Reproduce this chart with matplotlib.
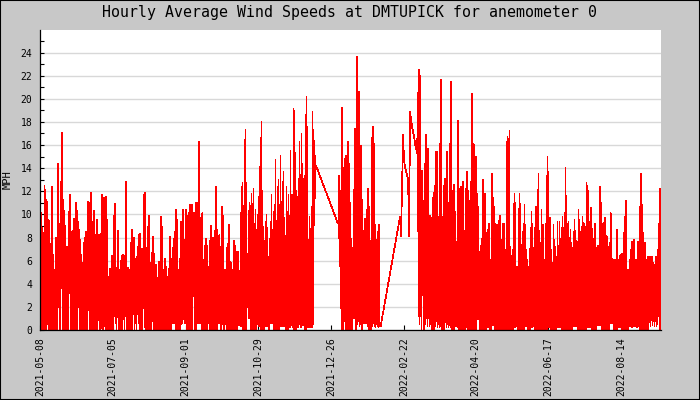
import numpy as np
import pandas as pd
import matplotlib
matplotlib.use("Agg")
import matplotlib.pyplot as plt
from matplotlib.ticker import MultipleLocator
from matplotlib.patches import Rectangle

title = "Hourly Average Wind Speeds at DMTUPICK for anemometer 0"
y_label = "MPH"
tick_labels = ["2021-05-08", "2021-07-05", "2021-09-01", "2021-10-29", "2021-12-26",
               "2022-02-22", "2022-04-20", "2022-06-17", "2022-08-14"]
x_start = "2021-05-08"
x_end = "2022-09-15"

# start of each recorded block and spacing of readings (hours)
seg_starts = ["2021-05-08 12:00", "2021-12-31 12:00", "2022-02-19 00:00", "2022-03-05 08:00"]
step_hours = 19.2

# block 1: highs / lows
seg1_high = [
    10.8, 9.0, 8.8, 6.0, 12.5, 8.7, 11.3, 7.0, 9.5, 7.5,
    5.5, 12.4, 6.5, 5.2, 4.0, 8.0, 7.8, 14.4, 9.0, 9.2,
    12.8, 17.1, 11.3, 10.3, 9.0, 7.2, 7.2, 7.2, 10.2, 11.7,
    6.5, 8.5, 8.6, 9.6, 8.7, 11.0, 10.3, 9.4, 8.7, 7.8,
    6.5, 3.3, 5.8, 7.5, 8.0, 8.5, 4.5, 11.1, 11.0, 6.2,
    11.9, 9.4, 9.0, 10.3, 8.0, 8.2, 9.5, 8.2, 8.2, 6.8,
    8.3, 11.7, 9.0, 11.4, 9.0, 11.5, 9.5, 4.5, 4.6, 5.3,
    3.8, 6.4, 6.2, 9.9, 10.9, 5.4, 4.0, 8.6, 5.2, 3.8,
    6.0, 6.4, 6.5, 5.4, 6.4, 12.8, 4.5, 5.4, 5.2, 3.9,
    7.5, 8.7, 8.0, 8.0, 6.2, 4.0, 6.3, 7.2, 8.2, 8.3,
    5.9, 7.0, 5.9, 11.7, 11.9, 7.1, 6.0, 8.9, 9.9, 3.2,
    5.8, 6.7, 8.1, 6.6, 4.9, 5.6, 4.5, 3.0, 5.9, 4.2,
    9.8, 8.9, 5.2, 4.4, 6.2, 5.5, 4.6, 3.9, 5.3, 8.1,
    6.2, 5.6, 7.1, 7.9, 8.5, 10.4, 9.5, 4.8, 5.2, 6.2,
    9.4, 9.4, 10.4, 6.8, 7.8, 10.4, 9.9, 5.0, 10.1, 10.8,
    8.6, 10.8, 3.0, 10.1, 9.7, 11.0, 9.7, 11.0, 16.3, 9.7,
    5.5, 10.1, 5.9, 6.1, 7.3, 7.9, 7.3, 5.5, 3.7, 7.7,
    9.0, 3.7, 8.0, 5.8, 8.6, 12.4, 8.7, 7.2, 8.2, 7.2,
    6.5, 10.7, 9.9, 3.5, 5.2, 4.5, 7.1, 7.5, 9.1, 5.9,
    5.8, 5.2, 4.5, 7.7, 7.3, 6.8, 6.3, 6.8, 4.6, 5.2,
    10.3, 12.7, 9.7, 11.2, 17.3, 12.7, 5.9, 6.1, 11.0, 8.2,
    11.8, 6.7, 12.2, 7.5, 10.4, 7.1, 9.9, 11.5, 11.0, 16.6,
    18.0, 12.0, 8.9, 7.5, 9.4, 10.0, 8.8, 6.3, 7.9, 9.4,
    11.7, 8.7, 10.2, 4.9, 14.7, 7.8, 12.4, 13.0, 7.1, 15.1,
    11.1, 12.8, 13.7, 7.8, 6.9, 12.4, 10.2, 11.7, 6.6, 15.5,
    2.9, 9.8, 19.1, 19.0, 15.3, 11.8, 11.5, 13.1, 16.3, 13.3,
    17.0, 10.2, 13.1, 13.3, 18.6, 20.2, 8.2, 7.8, 9.8, 8.1,
    10.7, 18.9, 17.0, 15.4, 14.2,
]
seg1_low = [
    0, 2.1, 0, 0, 0, 0, 0.5, 0.5, 0, 0,
    0, 0, 0, 0, 0, 0, 0, 2.0, 2.0, 0,
    3.6, 3.6, 0, 0, 0, 0.3, 0, 0, 3.2, 3.2,
    0, 0, 0, 0, 0.5, 0, 0, 2.0, 2.0, 0,
    0, 0, 0, 0, 0, 0, 0, 1.7, 1.7, 0,
    1.7, 0, 0, 0, 0, 0, 0, 1.9, 0.8, 0,
    0.9, 0, 0, 0.8, 0, 0, 0, 0, 0, 0,
    0, 0, 0, 1.2, 1.2, 0, 1.2, 0, 0, 0,
    0, 0, 1.2, 0, 1.2, 0, 0, 0, 0, 0,
    0, 0, 1.4, 0, 0.6, 0, 1.4, 0.6, 0, 0,
    0, 0, 3.5, 0.2, 0, 0, 0, 0, 0, 0,
    0, 0.8, 0, 0, 0, 0, 0, 0, 0, 0,
    0, 0, 0, 0, 0, 0, 0, 0, 0, 0,
    0, 0.6, 0.6, 0.6, 0, 0, 0, 0, 0, 0,
    1.1, 0.6, 1.1, 0.6, 0.6, 0, 0, 0, 0, 0,
    0, 2.9, 2.9, 0, 0, 1.0, 0.6, 1.0, 0.6, 0.6,
    0, 0, 0, 0, 0, 0, 0.6, 0.6, 0, 0.6,
    0, 0.6, 0, 0.6, 0, 0, 1.2, 0.6, 1.2, 0,
    0.5, 1.2, 0, 1.2, 0.5, 0, 0, 0, 0, 0,
    0, 0.7, 0, 0, 0, 0, 1.2, 0.4, 1.3, 0.3,
    0.4, 0, 0, 0, 0, 2.0, 3.0, 1.0, 1.5, 0,
    0, 0, 0, 0, 0, 0.5, 0.5, 0.3, 0.5, 0,
    0, 0, 0, 0.5, 0.3, 0.3, 0.3, 0, 1.8, 0.6,
    1.2, 0.6, 0, 0, 0, 0, 0, 0, 0.8, 0.3,
    0.3, 0.8, 0.3, 0.3, 0, 0.4, 0, 0.4, 0.2, 0.4,
    0.4, 0.2, 0, 0, 0, 1.4, 0.2, 1.4, 0.5, 0.2,
    1.2, 0.4, 1.4, 0, 0, 0.3, 0.2, 0.3, 0.2, 0.3,
    0.2, 0.5, 9.1, 11.4, 14.2,
]

# block 2
seg2_high = [
    9.2, 13.3, 12.0, 7.9, 19.2, 14.0, 4.0, 14.8, 15.1, 7.5,
    16.3, 14.4, 11.0, 7.9, 5.6, 7.1, 12.1, 17.4, 9.8, 23.6,
    19.9, 20.6, 12.0, 15.9, 11.3, 8.6, 8.6, 9.6, 9.3, 10.4,
    12.2, 10.7, 7.7, 7.6, 16.6, 17.6, 16.1, 9.1, 7.8, 6.8,
    8.5, 9.1, 0.3,
]
seg2_low = [
    9.2, 6.3, 3.5, 0, 0, 0, 0.8, 0, 0, 0,
    0, 0, 0, 0, 0, 1.0, 1.0, 0, 0, 0.5,
    0.8, 0.3, 0.5, 0, 0, 0.6, 0.6, 0.6, 0.6, 0.3,
    0, 0, 0, 0, 0.3, 0.6, 0.3, 0.2, 0.5, 0.3,
    0.2, 0.3, 0.3,
]

# block 3 (sparse readings)
seg3_values = [9.8, 8.1, 12.5, 16.9, 14.6, 14.1, 13.7, 13.4, 13.0, 8.1,
               18.9, 18.2, 17.6, 17.1, 16.7, 16.1, 15.7, 15.3]

# block 4
seg4_high = [
    20.5, 22.5, 22.0, 7.2, 13.8, 11.2, 7.1, 14.4, 16.9, 14.4,
    15.7, 8.5, 9.9, 9.7, 7.2, 11.4, 11.9, 12.5, 15.4, 15.4,
    9.4, 9.8, 16.1, 21.6, 9.8, 7.1, 12.5, 13.1, 11.2, 15.4,
    11.0, 9.5, 16.1, 21.5, 12.0, 7.2, 12.6, 10.2, 7.6, 6.1,
    18.1, 12.2, 10.7, 12.4, 9.2, 12.8, 6.5, 8.6, 12.2, 13.7,
    12.0, 11.2, 9.7, 12.8, 20.4, 16.1, 16.0, 12.6, 15.0, 11.8,
    10.7, 4.9, 6.8, 7.3, 7.9, 13.0, 11.4, 11.8, 8.4, 8.4,
    8.7, 9.2, 5.5, 6.1, 13.5, 11.4, 10.7, 9.2, 7.8, 9.1,
    8.5, 9.5, 9.9, 6.4, 7.8, 9.2, 9.2, 6.1, 7.1, 16.7,
    15.0, 17.2, 3.9, 6.3, 6.9, 5.3, 11.8, 11.0, 5.2, 5.5,
    6.1, 11.8, 10.9, 6.9, 8.5, 7.6, 10.8, 9.1, 6.9, 6.1,
    5.5, 5.5, 8.8, 10.2, 9.2, 7.1, 8.8, 10.7, 10.7, 12.1,
    13.5, 8.3, 7.5, 10.4, 9.1, 9.1, 5.2, 6.6, 13.3, 15.0,
    13.7, 7.2, 9.7, 6.5, 4.6, 9.1, 7.8, 7.2, 6.3, 9.4,
    7.2, 9.4, 7.9, 8.8, 9.8, 8.8, 10.1, 14.0, 9.4, 9.2,
    9.4, 4.0, 8.7, 6.4, 7.1, 8.5, 9.5, 8.6, 6.8, 7.6,
    10.4, 8.4, 8.5, 8.9, 9.8, 6.2, 9.2, 3.5, 12.7, 12.2,
    8.5, 9.4, 10.6, 8.8, 7.9, 6.1, 9.2, 7.1, 6.3, 7.3,
    6.4, 12.4, 11.0, 7.2, 9.2, 9.3, 9.7, 8.2, 8.1, 6.6,
    7.2, 7.5, 10.1, 6.2, 6.0, 6.1, 6.1, 6.1, 8.7, 6.1,
    4.8, 6.4, 6.5, 6.6, 5.8, 8.4, 9.8, 11.2, 5.2, 5.2,
    5.1, 6.1, 6.9, 7.6, 7.1, 7.8, 6.1, 6.1, 6.1, 7.6,
    7.3, 10.7, 13.5, 10.8, 8.4, 6.1, 7.5, 6.1, 5.9, 6.3,
    6.1, 6.3, 5.8, 6.3, 5.8, 4.6, 5.6, 6.3, 3.9, 6.9,
    9.2, 12.2, 10.1,
]
seg4_low = [
    1.2, 0.5, 1.2, 0, 3.2, 0, 0, 0.5, 1.0, 0.3,
    1.0, 0.3, 0.5, 0, 0, 0, 0, 0.3, 0.8, 0.2,
    0.5, 0.2, 0.3, 0, 0, 0, 0, 1.3, 0.2, 0.5,
    0.2, 0.8, 0.2, 0, 0, 0, 1.4, 0.3, 1.4, 0.2,
    0, 0, 0, 0, 0, 0, 0, 0.3, 0.2, 0,
    0, 0, 0, 0, 0, 0, 0, 0, 2.9, 0.9,
    1.5, 0, 0, 0, 0, 0, 0, 0, 0.6, 0.2,
    0.6, 0, 0, 0.4, 1.0, 0.4, 0, 0, 0, 0,
    0, 0, 0, 0, 0, 0, 0, 0, 0, 0,
    0, 0, 0, 0, 0, 0.6, 0.2, 0.8, 0.3, 0,
    0, 0, 0, 0, 0, 0, 1.5, 0.3, 1.5, 0,
    0, 0, 0.3, 0.2, 0.3, 0.3, 0, 0, 0, 0,
    0, 0, 0, 0, 1.4, 0, 0, 0, 0, 1.6,
    0.2, 1.6, 0, 0, 0, 0, 0, 0, 0.3, 0.2,
    0.5, 0.2, 0.3, 0, 0, 0, 0, 0, 0, 0,
    0, 0, 0, 0, 0.8, 0.3, 0.8, 0.3, 0.5, 0,
    0, 0, 0, 0, 0, 0, 0, 0, 1.7, 0.2,
    0.3, 0.2, 1.7, 0, 0, 0, 0, 0, 1.2, 0.4,
    1.2, 0.4, 0.6, 0, 0, 0, 0, 0, 0, 0,
    0, 1.4, 0.6, 1.4, 0.6, 0, 0, 0, 0, 0.2,
    0.5, 0.2, 0.3, 0, 0, 0, 0, 0, 0, 0,
    0.8, 0.3, 0.8, 0.2, 0.6, 0.3, 0.8, 0.3, 0.2, 0.6,
    0.3, 0, 0, 0, 0, 0, 0, 0, 0, 0,
    1.3, 0.3, 1.0, 0.4, 1.3, 0.3, 0.8, 0.3, 0.5, 1.2,
    0, 0, 5.0,
]

# ---------------- build the series ----------------
step = pd.Timedelta(hours=step_hours)


def dense_block(start, highs, lows):
    t = pd.Timestamp(start) + step * np.arange(len(highs))
    times = []
    vals = []
    for ti, h, lo in zip(t, highs, lows):
        times += [ti, ti + step / 2]
        vals += [h, lo]
    return times, vals


t1, v1 = dense_block(seg_starts[0], seg1_high, seg1_low)
t2, v2 = dense_block(seg_starts[1], seg2_high, seg2_low)
t3 = list(pd.Timestamp(seg_starts[2]) + step * np.arange(len(seg3_values)))
v3 = list(seg3_values)
t4, v4 = dense_block(seg_starts[3], seg4_high, seg4_low)

times = pd.to_datetime(t1 + t2 + t3 + t4)
values = np.array(v1 + v2 + v3 + v4)

# ---------------- figure ----------------
W, H = 700, 400
bg = "#c8c8c8"
fig = plt.figure(figsize=(W / 100, H / 100), dpi=100, facecolor=bg)
ax = fig.add_axes([40 / W, 70 / H, 621 / W, 300 / H])
ax.set_facecolor("white")

ax.plot(times, values, color="#ff0000", lw=0.5, antialiased=False)

ax.set_xlim(pd.Timestamp(x_start), pd.Timestamp(x_end))
ax.set_ylim(0, 25.95)

mono = "DejaVu Sans Mono"
ax.yaxis.set_major_locator(MultipleLocator(2))
ax.yaxis.set_minor_locator(MultipleLocator(1))
ax.set_xticks(pd.to_datetime(tick_labels))
ax.set_xticklabels(tick_labels, rotation=90, fontsize=7, family=mono)
for lab in ax.get_yticklabels():
    lab.set_fontfamily(mono)
    lab.set_fontsize(7)

ax.tick_params(axis="y", which="both", direction="in", length=3, width=0.8,
               color="black", pad=5.5, labelsize=7)
ax.tick_params(axis="x", which="both", direction="in", length=3.6, width=0.8,
               color="black", pad=5.5, labelsize=7)

ax.grid(axis="y", which="major", color="#d8d8d8", lw=1.0)
ax.set_axisbelow(True)

for s in ["top", "right"]:
    ax.spines[s].set_visible(False)
for s in ["left", "bottom"]:
    ax.spines[s].set_color("black")
    ax.spines[s].set_linewidth(0.9)

ax.set_ylabel(y_label, fontsize=7.5, family=mono)
ax.yaxis.set_label_coords(-27 / 621, 0.5)

fig.text(0.5, 1 - 13 / H, title, ha="center", va="center", fontsize=10.7, family=mono)

fig.patches.append(Rectangle((0, 0), 1, 1, transform=fig.transFigure, fill=False,
                             edgecolor="black", lw=1.5))

fig.savefig("out.png", dpi=100, facecolor=bg)
